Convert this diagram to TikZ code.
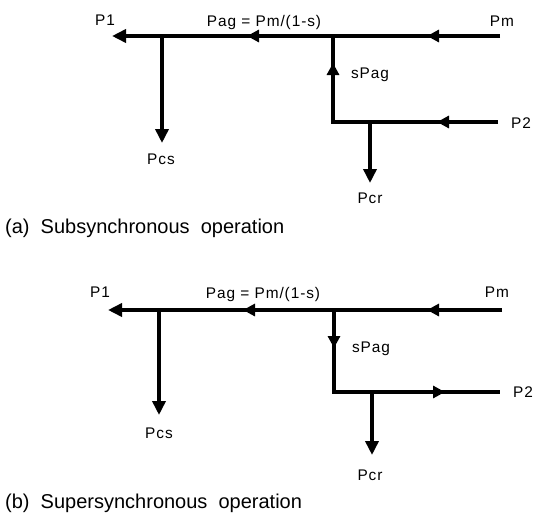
\documentclass[tikz,border=0pt]{standalone}
\usepackage{fontspec}
\setmainfont{Liberation Sans}
\usetikzlibrary{arrows.meta,decorations.markings}

\begin{document}
\begin{tikzpicture}[x=1pt,y=-1pt,
  flow/.style={line width=4pt, line join=miter},
  tipend/.style={-{Triangle[length=14pt,width=13pt]}},
  onemark/.style={postaction={decorate},
    decoration={markings,
      mark=at position #1 with {\arrow{Triangle[length=12pt,width=12pt]}}}},
  twomarks/.style 2 args={postaction={decorate},
    decoration={markings,
      mark=at position #1 with {\arrow{Triangle[length=12pt,width=12pt]}},
      mark=at position #2 with {\arrow{Triangle[length=12pt,width=12pt]}}}},
  lbl/.style={font=\fontsize{15.4}{17}\selectfont\addfontfeature{LetterSpace=6},
    inner sep=0pt, anchor=base},
  capt/.style={font=\fontsize{20}{23}\selectfont, inner sep=0pt, anchor=base west}]

\useasboundingbox (0,0) rectangle (534,525);

% ---------- (a) subsynchronous ----------
\coordinate (ma) at (500,36);
\coordinate (j2a) at (333,36);
\coordinate (j1a) at (162,36);
\coordinate (p1a) at (112,36);
\coordinate (pcsa) at (162,143);
\coordinate (p2a) at (498,122);
\coordinate (ca) at (333,122);
\coordinate (j3a) at (370,122);
\coordinate (pcra) at (370,183);

\draw[flow, onemark=73pt] (ma) -- (j2a);
\draw[flow, onemark=86pt] (j2a) -- (j1a);
\draw[flow, tipend] (j1a) -- (p1a);
\draw[flow, tipend] (j1a) -- (pcsa);
\draw[flow, twomarks={61pt}{224pt}] (p2a) -- (ca) -- (j2a);
\draw[flow, tipend] (j3a) -- (pcra);

\node[lbl] (lp1a) at (105,25) {P1};
\node[lbl] (lpaga) at (264,26) {Pag = Pm/(1-s)};
\node[lbl] (lpma) at (502,26) {Pm};
\node[lbl] (lspaga) at (370,78) {sPag};
\node[lbl] (lp2a) at (521,128) {P2};
\node[lbl] (lpcsa) at (161,164) {Pcs};
\node[lbl] (lpcra) at (370,203) {Pcr};
\node[capt] (capa) at (5,233) {(a)\ \ Subsynchronous\ \ operation};

% ---------- (b) supersynchronous ----------
\coordinate (mb) at (502,310);
\coordinate (j2b) at (334,310);
\coordinate (j1b) at (159,310);
\coordinate (p1b) at (108,310);
\coordinate (pcsb) at (159,415);
\coordinate (cb) at (334,392);
\coordinate (p2b) at (500,392);
\coordinate (j3b) at (372,392);
\coordinate (pcrb) at (372,455);

\draw[flow, onemark=75pt] (mb) -- (j2b);
\draw[flow, onemark=91pt] (j2b) -- (j1b);
\draw[flow, tipend] (j1b) -- (p1b);
\draw[flow, tipend] (j1b) -- (pcsb);
\draw[flow, twomarks={38pt}{193pt}] (j2b) -- (cb) -- (p2b);
\draw[flow, tipend] (j3b) -- (pcrb);

\node[lbl] (lp1b) at (100,297) {P1};
\node[lbl] (lpagb) at (263,298) {Pag = Pm/(1-s)};
\node[lbl] (lpmb) at (497,297) {Pm};
\node[lbl] (lspagb) at (371,352) {sPag};
\node[lbl] (lp2b) at (523,397) {P2};
\node[lbl] (lpcsb) at (159,438) {Pcs};
\node[lbl] (lpcrb) at (370,480) {Pcr};
\node[capt] (capb) at (5,508) {(b)\ \ Supersynchronous\ \ operation};
\end{tikzpicture}
\end{document}
